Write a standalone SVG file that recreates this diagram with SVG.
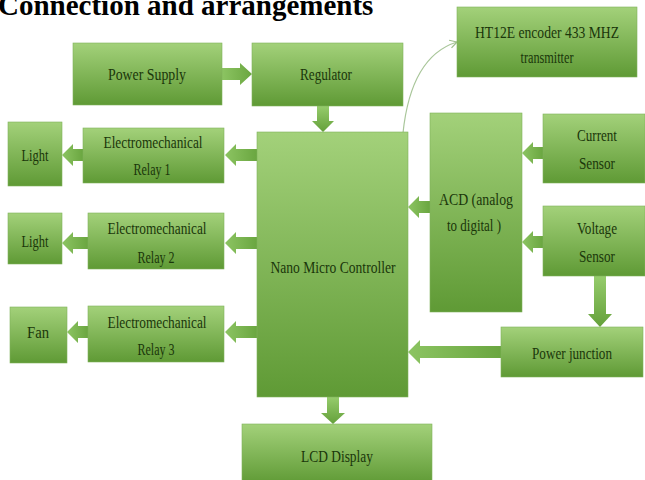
<svg xmlns="http://www.w3.org/2000/svg" width="645" height="480" viewBox="0 0 645 480">
<defs>
<linearGradient id="g" x1="0" y1="0" x2="0" y2="1">
<stop offset="0" stop-color="#a3d17a"/>
<stop offset="1" stop-color="#5f9a35"/>
</linearGradient>
<linearGradient id="gh" x1="0" y1="0" x2="1" y2="0">
<stop offset="0" stop-color="#8cc462"/>
<stop offset="1" stop-color="#6aa640"/>
</linearGradient>
<linearGradient id="gv" x1="0" y1="0" x2="0" y2="1">
<stop offset="0" stop-color="#96cc6c"/>
<stop offset="1" stop-color="#64a03a"/>
</linearGradient>
<marker id="open" markerWidth="10" markerHeight="10" refX="8" refY="5" orient="auto" markerUnits="userSpaceOnUse">
<path d="M1,1 L8,5 L1,9" fill="none" stroke="#9fbf8c" stroke-width="1.2"/>
</marker>
</defs>
<style>
.box{fill:url(#g);stroke:#7fb35a;stroke-width:0.6}
.t{font-family:"Liberation Serif","Times New Roman",serif;font-size:16px;fill:#1a360a;text-anchor:middle}
.title{font-family:"Liberation Serif","Times New Roman",serif;font-size:29px;font-weight:bold;fill:#000}
.ah{fill:url(#gh)}
.av{fill:url(#gv)}
</style>
<rect width="645" height="480" fill="#fff"/>
<text class="title" x="-2" y="15">Connection and arrangements</text>

<g id="connectors">
<polygon class="ah" points="222,68 240,68 240,63 252,74 240,85 240,80 222,80"/>
<polygon class="av" points="317,106 329,106 329,121 334,121 323,132 312,121 317,121"/>
<path d="M403,133 C408,85 425,52 457,42" fill="none" stroke="#a9c69a" stroke-width="1.2" marker-end="url(#open)"/>
<polygon class="ah" points="257,149 236,149 236,144 225,155 236,166 236,161 257,161"/>
<polygon class="ah" points="83,149 73,149 73,144 62,155 73,166 73,161 83,161"/>
<polygon class="ah" points="257,237 236,237 236,232 225,243 236,254 236,249 257,249"/>
<polygon class="ah" points="88,237 73,237 73,232 62,243 73,254 73,249 88,249"/>
<polygon class="ah" points="257,326 236,326 236,321 225,332 236,343 236,338 257,338"/>
<polygon class="ah" points="88,326 78,326 78,321 67,332 78,343 78,338 88,338"/>
<polygon class="ah" points="430,201 419,201 419,196 408,207 419,218 419,213 430,213"/>
<polygon class="ah" points="543,147 533,147 533,142 522,153 533,164 533,159 543,159"/>
<polygon class="ah" points="543,236 533,236 533,231 522,242 533,253 533,248 543,248"/>
<polygon class="av" points="594,276 606,276 606,314 612,314 600,327 588,314 594,314"/>
<polygon class="ah" points="501,346 420,346 420,340 408,352 420,364 420,358 501,358"/>
<polygon class="av" points="327,397 339,397 339,413 345,413 333,424 321,413 327,413"/>
</g>

<g id="power-supply"><rect class="box" x="73" y="43" width="149" height="62"/><text class="t" x="147" y="80" textLength="78" lengthAdjust="spacingAndGlyphs">Power Supply</text></g>
<g id="regulator"><rect class="box" x="252" y="43" width="151" height="63"/><text class="t" x="326" y="80" textLength="52" lengthAdjust="spacingAndGlyphs">Regulator</text></g>
<g id="ht12e"><rect class="box" x="457" y="7" width="180" height="70"/><text class="t" x="547" y="38" textLength="144" lengthAdjust="spacingAndGlyphs">HT12E encoder 433 MHZ</text><text class="t" x="547" y="63" textLength="53" lengthAdjust="spacingAndGlyphs">transmitter</text></g>
<g id="mcu"><rect class="box" x="257" y="132" width="151" height="265"/><text class="t" x="333" y="273" textLength="125" lengthAdjust="spacingAndGlyphs">Nano Micro Controller</text></g>
<g id="light1"><rect class="box" x="8" y="122" width="54" height="64"/><text class="t" x="35" y="161" textLength="27" lengthAdjust="spacingAndGlyphs">Light</text></g>
<g id="relay1"><rect class="box" x="83" y="128" width="141" height="55"/><text class="t" x="153" y="148" textLength="99" lengthAdjust="spacingAndGlyphs">Electromechanical</text><text class="t" x="152" y="175" textLength="37" lengthAdjust="spacingAndGlyphs">Relay 1</text></g>
<g id="light2"><rect class="box" x="8" y="213" width="54" height="51"/><text class="t" x="35" y="247" textLength="27" lengthAdjust="spacingAndGlyphs">Light</text></g>
<g id="relay2"><rect class="box" x="88" y="213" width="136" height="56"/><text class="t" x="157" y="234" textLength="99" lengthAdjust="spacingAndGlyphs">Electromechanical</text><text class="t" x="156" y="263" textLength="37" lengthAdjust="spacingAndGlyphs">Relay 2</text></g>
<g id="fan"><rect class="box" x="10" y="307" width="57" height="56"/><text class="t" x="38" y="338" textLength="22" lengthAdjust="spacingAndGlyphs">Fan</text></g>
<g id="relay3"><rect class="box" x="88" y="306" width="136" height="56"/><text class="t" x="157" y="328" textLength="99" lengthAdjust="spacingAndGlyphs">Electromechanical</text><text class="t" x="156" y="355" textLength="37" lengthAdjust="spacingAndGlyphs">Relay 3</text></g>
<g id="acd"><rect class="box" x="430" y="113" width="92" height="199"/><text class="t" x="476" y="205" textLength="74" lengthAdjust="spacingAndGlyphs">ACD (analog</text><text class="t" x="474" y="231" textLength="54" lengthAdjust="spacingAndGlyphs">to digital )</text></g>
<g id="current-sensor"><rect class="box" x="543" y="114" width="102" height="69"/><text class="t" x="597" y="141" textLength="40" lengthAdjust="spacingAndGlyphs">Current</text><text class="t" x="597" y="169" textLength="36" lengthAdjust="spacingAndGlyphs">Sensor</text></g>
<g id="voltage-sensor"><rect class="box" x="543" y="206" width="102" height="70"/><text class="t" x="597" y="234" textLength="40" lengthAdjust="spacingAndGlyphs">Voltage</text><text class="t" x="597" y="262" textLength="36" lengthAdjust="spacingAndGlyphs">Sensor</text></g>
<g id="power-junction"><rect class="box" x="501" y="327" width="142" height="50"/><text class="t" x="572" y="359" textLength="80" lengthAdjust="spacingAndGlyphs">Power junction</text></g>
<g id="lcd"><rect class="box" x="242" y="424" width="190" height="60"/><text class="t" x="337" y="462" textLength="72" lengthAdjust="spacingAndGlyphs">LCD Display</text></g>
</svg>
